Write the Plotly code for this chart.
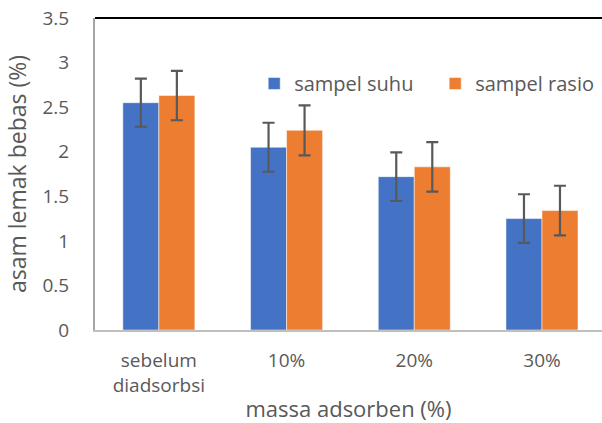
import plotly.graph_objects as go

categories = ["sebelum<br>diadsorbsi", "10%", "20%", "30%"]
suhu = [2.55, 2.05, 1.72, 1.25]
rasio = [2.63, 2.24, 1.83, 1.34]
suhu_err = [0.27, 0.275, 0.273, 0.273]
rasio_err = [0.277, 0.28, 0.277, 0.278]
y_ticks = [0, 0.5, 1, 1.5, 2, 2.5, 3, 3.5]
y_tick_text = ["0", "0.5", "1", "1.5", "2", "2.5", "3", "3.5"]

font_family = "Open Sans, Noto Sans, sans-serif"
text_color = "#595959"
err_color = "#595959"

fig = go.Figure()
fig.add_trace(go.Bar(
    name="sampel suhu", x=categories, y=suhu,
    marker=dict(color="#4472C4", line=dict(color="white", width=0.5)),
    error_y=dict(type="data", array=suhu_err, color=err_color, thickness=2.2, width=6),
))
fig.add_trace(go.Bar(
    name="sampel rasio", x=categories, y=rasio,
    marker=dict(color="#ED7D31", line=dict(color="white", width=0.5)),
    error_y=dict(type="data", array=rasio_err, color=err_color, thickness=2.2, width=6),
))

fig.update_layout(
    width=602, height=423,
    margin=dict(l=95, r=0, t=18, b=93, autoexpand=False),
    paper_bgcolor="white", plot_bgcolor="white",
    barmode="group", bargap=0.436, bargroupgap=0,
    font=dict(family=font_family, color=text_color, size=19),
    legend=dict(
        orientation="h", x=0.314, y=0.79, xanchor="left", yanchor="middle",
        font=dict(size=20, color=text_color), bgcolor="rgba(0,0,0,0)",
        entrywidth=136, entrywidthmode="pixels", itemwidth=30,
    ),
    xaxis=dict(
        range=[-0.5, 3.47], showline=True, linecolor="#BFBFBF", linewidth=2,
        mirror=False, ticks="", tickfont=dict(size=19, color=text_color),
        ticklabelstandoff=12, automargin=False,
        title=dict(text="massa adsorben (%)", font=dict(size=22, color=text_color), standoff=6),
        showgrid=False, zeroline=False,
    ),
    yaxis=dict(
        range=[0, 3.5], tickvals=y_ticks, ticktext=y_tick_text,
        showline=True, linecolor="#A6A6A6", linewidth=2,
        ticks="", ticklabelstandoff=20, tickfont=dict(size=19, color=text_color),
        automargin=False,
        title=dict(text="asam lemak bebas (%)", font=dict(size=23, color=text_color), standoff=9),
        showgrid=False, zeroline=False,
    ),
    shapes=[dict(type="line", xref="paper", yref="paper", x0=0, x1=1, y0=1, y1=1,
                 line=dict(color="black", width=2))],
)

fig.write_html("out.html", config={"displayModeBar": False},
               post_script="document.body.style.margin='0';")
